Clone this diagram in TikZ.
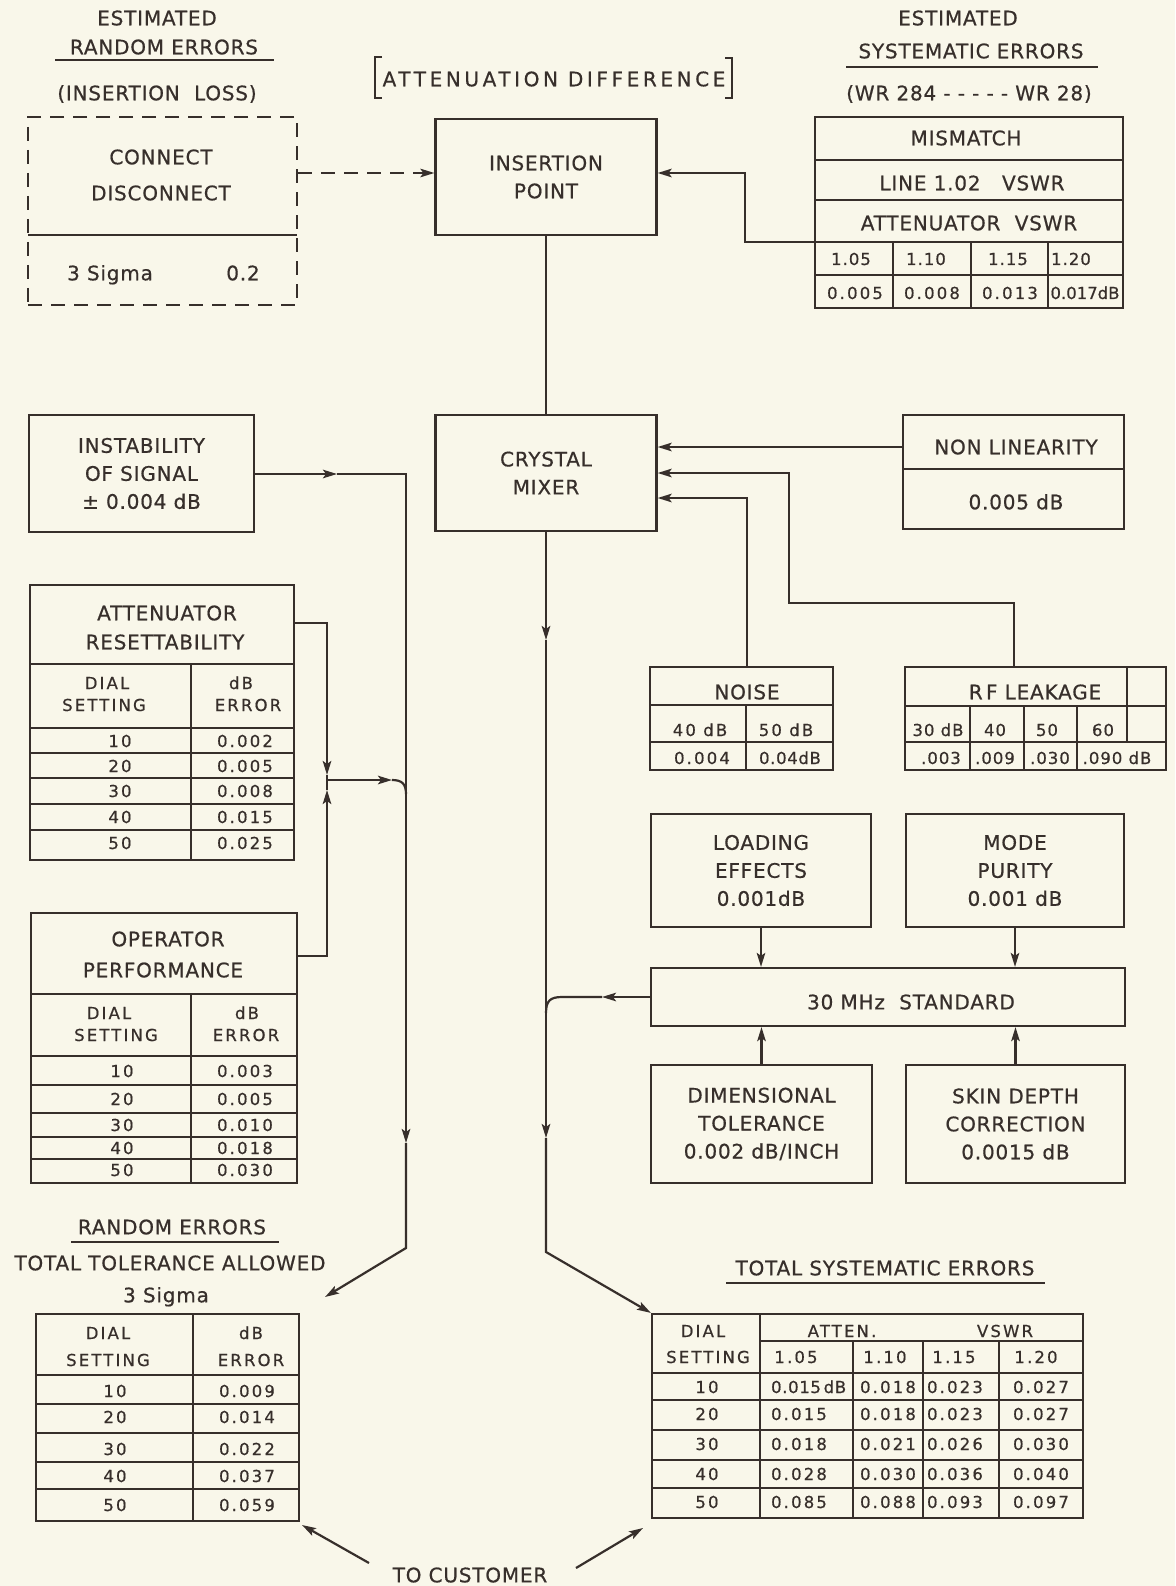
\documentclass[tikz,border=0pt]{standalone}
\usepackage{fontspec}
\setmainfont{DejaVu Sans}[LetterSpace=4,FakeBold=0.6]
\usetikzlibrary{arrows.meta}
\definecolor{paper}{RGB}{249,247,234}
\definecolor{ink}{RGB}{55,47,43}
\tikzset{
  box/.style={draw, inner sep=0pt, align=center},
  txt/.style={anchor=base, yshift=-7.3pt, inner sep=0pt},
  stxt/.style={anchor=base, yshift=-6pt, inner sep=0pt,
    font=\fontsize{16.5}{22}\selectfont\addfontfeature{LetterSpace=13}},
  tip/.style={-{Stealth[length=14pt,width=8.5pt,inset=3pt]}},
  dashbox/.style={dash pattern=on 14pt off 9pt},
}
\begin{document}
\begin{tikzpicture}[x=1pt,y=-1pt,line width=2.2pt,color=ink,font=\fontsize{20}{28}\selectfont]
\useasboundingbox (0,0) rectangle (1175,1586);
\fill[paper] (0,0) rectangle (1175,1586);

% random errors, insertion loss
\node[txt] (estl) at (157,18) {ESTIMATED};
\node[txt] (rndl) at (164,47) {RANDOM ERRORS};
\draw (55,60) -- (274,60);
\node[txt] (loss) at (157,93) {(INSERTION\ \ LOSS)};
\node[box,dashbox,minimum width=269pt,minimum height=188pt] (cd) at (162.5,211) {};
\draw (28,235) -- (297,235);
\node[txt] (conn) at (161,157) {CONNECT};
\node[txt] (disc) at (161,193) {DISCONNECT};
\node[txt] (sig) at (110,273) {3 Sigma};
\node[txt] (sigv) at (243,273) {0.2};

% attenuation difference
\node[txt] (attd) at (554,79) {\addfontfeature{LetterSpace=18}ATTENUATION DIFFERENCE};
\draw (382,57) -- (375,57) -- (375,98) -- (382,98);
\draw (725,58) -- (732,58) -- (732,98) -- (725,98);
\node[box,minimum width=221pt,minimum height=116pt] (ins) at (546,177) {INSERTION\\POINT};

% systematic errors, mismatch
\node[txt] (estr) at (958,18) {ESTIMATED};
\node[txt] (sysr) at (971,51) {SYSTEMATIC ERRORS};
\draw (846,67) -- (1098,67);
\node[txt] (wr) at (969,93) {(WR 284 - - - - - WR 28)};
\node[box,minimum width=308pt,minimum height=191pt] (mis) at (969,212.5) {};
\foreach \y in {160,200,242,275} \draw (815,\y) -- (1123,\y);
\foreach \x in {893,971,1048} \draw (\x,242) -- (\x,308);
\node[txt] (mm) at (966,138) {MISMATCH};
\node[txt] (lin) at (972,183) {LINE 1.02\ \ \ VSWR};
\node[txt] (avs) at (969,223) {ATTENUATOR\ \ VSWR};
\foreach \xa/\v/\xb/\e [count=\i] in {851/1.05/855/0.005, 926/1.10/932/0.008, 1008/1.15/1010/0.013,
    1071/1.20/1085/{\addfontfeature{LetterSpace=0}0.017dB}}{
  \node[stxt] (mv\i) at (\xa,259) {\addfontfeature{LetterSpace=6}\v};
  \node[stxt] (me\i) at (\xb,293) {\e};
}

% crystal mixer and its inputs
\node[box,minimum width=221pt,minimum height=116pt] (cry) at (546,473) {CRYSTAL\\MIXER};
\node[box,minimum width=221pt,minimum height=114pt] (nl) at (1013.5,472) {};
\draw (903,469) -- (1124,469);
\node[txt] (nlt) at (1016,447) {NON LINEARITY};
\node[txt] (nlv) at (1016,502) {0.005 dB};

\node[box,minimum width=183pt,minimum height=103pt] (noi) at (741.5,718.5) {};
\draw (650,705) -- (833,705);
\draw (650,742) -- (833,742);
\draw (746,705) -- (746,770);
\node[txt] (noit) at (747,692) {NOISE};
\node[stxt] (n40) at (700,730) {40 dB};
\node[stxt] (n50) at (786,730) {50 dB};
\node[stxt] (n40v) at (702,758) {0.004};
\node[stxt] (n50v) at (790,758) {\addfontfeature{LetterSpace=4}0.04dB};

\node[box,minimum width=261pt,minimum height=103pt] (rf) at (1035.5,718.5) {};
\draw (905,706) -- (1166,706);
\draw (905,742) -- (1166,742);
\draw (1127,667) -- (1127,742);
\foreach \x in {970,1024,1077} \draw (\x,706) -- (\x,770);
\node[txt] (rft) at (1035,692) {R\,F LEAKAGE};
\foreach \xa/\a/\xb/\b [count=\i] in {938/30 dB/941/.003, 995/40/995/.009, 1047/50/1050/.030,
    1103/60/1117/.090 dB}{
  \node[stxt] (rfa\i) at (\xa,730) {\addfontfeature{LetterSpace=6}\a};
  \node[stxt] (rfb\i) at (\xb,758) {\addfontfeature{LetterSpace=6}\b};
}

% random error sources
\node[box,minimum width=225pt,minimum height=117pt] (inst) at (141.5,473.5) {INSTABILITY\\OF SIGNAL\\± 0.004 dB};

\node[box,minimum width=264pt,minimum height=275pt] (res) at (162,722.5) {};
\draw (30,664) -- (294,664);
\draw (191,664) -- (191,860);
\foreach \y in {728,753,778,804,830} \draw (30,\y) -- (294,\y);
\node[txt] (rest1) at (167,613) {ATTENUATOR};
\node[txt] (rest2) at (165,642) {RESETTABILITY};
\node[stxt] (resd1) at (107,683) {DIAL};
\node[stxt] (resd2) at (104,705) {SETTING};
\node[stxt] (rese1) at (241,683) {dB};
\node[stxt] (rese2) at (248,705) {ERROR};
\foreach \y/\d/\e [count=\i] in {741/10/0.002,766/20/0.005,791/30/0.008,817/40/0.015,843/50/0.025}{
  \node[stxt] (rd\i) at (120,\y) {\d};
  \node[stxt] (re\i) at (245,\y) {\e};
}

\node[box,minimum width=266pt,minimum height=270pt] (op) at (164,1048) {};
\draw (31,994) -- (297,994);
\draw (191,994) -- (191,1183);
\foreach \y in {1056,1085,1113,1137,1159} \draw (31,\y) -- (297,\y);
\node[txt] (opt1) at (168,939) {OPERATOR};
\node[txt] (opt2) at (163,970) {PERFORMANCE};
\node[stxt] (opd1) at (109,1013) {DIAL};
\node[stxt] (opd2) at (116,1035) {SETTING};
\node[stxt] (ope1) at (247,1013) {dB};
\node[stxt] (ope2) at (246,1035) {ERROR};
\foreach \y/\d/\e [count=\i] in {1071/10/0.003,1099/20/0.005,1125/30/0.010,1148/40/0.018,1170/50/0.030}{
  \node[stxt] (od\i) at (122,\y) {\d};
  \node[stxt] (oe\i) at (245,\y) {\e};
}

% random errors total
\node[txt] (rndt) at (172,1227) {RANDOM ERRORS};
\draw (71,1242) -- (279,1242);
\node[txt] (tol) at (170,1263) {TOTAL TOLERANCE ALLOWED};
\node[txt] (sig3) at (166,1295) {3 Sigma};
\node[box,minimum width=263pt,minimum height=207pt] (rnd) at (167.5,1417.5) {};
\draw (36,1375) -- (299,1375);
\draw (193,1314) -- (193,1521);
\foreach \y in {1404,1433,1462,1489} \draw (36,\y) -- (299,\y);
\node[stxt] (rnd1) at (108,1333) {DIAL};
\node[stxt] (rnd2) at (108,1360) {SETTING};
\node[stxt] (rne1) at (251,1333) {dB};
\node[stxt] (rne2) at (251,1360) {ERROR};
\foreach \y/\d/\e [count=\i] in {1391/10/0.009,1417/20/0.014,1449/30/0.022,1476/40/0.037,1505/50/0.059}{
  \node[stxt] (td\i) at (115,\y) {\d};
  \node[stxt] (te\i) at (247,\y) {\e};
}

% 30 MHz standard
\node[box,minimum width=220pt,minimum height=113pt] (load) at (761,870.5) {LOADING\\EFFECTS\\0.001dB};
\node[box,minimum width=218pt,minimum height=113pt] (mode) at (1015,870.5) {MODE\\PURITY\\0.001 dB};
\node[box,minimum width=474pt,minimum height=58pt] (std) at (888,997) {};
\node[txt] (stdt) at (911,1002) {30 MHz\ \ STANDARD};
\node[box,minimum width=221pt,minimum height=118pt] (dim) at (761.5,1124) {DIMENSIONAL\\TOLERANCE\\0.002 dB/INCH};
\node[box,minimum width=219pt,minimum height=118pt] (skin) at (1015.5,1124) {SKIN DEPTH\\CORRECTION\\0.0015 dB};

% total systematic errors
\node[txt] (tsys) at (885,1268) {TOTAL SYSTEMATIC ERRORS};
\draw (726,1283) -- (1045,1283);
\node[box,minimum width=431pt,minimum height=204pt] (sys) at (867.5,1416) {};
\draw (760,1314) -- (760,1518);
\draw (760,1341) -- (1083,1341);
\foreach \y in {1373,1400,1430,1460,1488} \draw (652,\y) -- (1083,\y);
\foreach \x in {853,923,999} \draw (\x,1341) -- (\x,1518);
\node[stxt] (sd1) at (703,1331) {DIAL};
\node[stxt] (sd2) at (708,1357) {SETTING};
\node[stxt] (sat) at (842,1331) {ATTEN.};
\node[stxt] (svs) at (1005,1331) {VSWR};
\node[stxt] (sv1) at (796,1357) {1.05};
\node[stxt] (sv2) at (885,1357) {1.10};
\node[stxt] (sv3) at (954,1357) {1.15};
\node[stxt] (sv4) at (1036,1357) {1.20};
\foreach \y/\d/\a/\b/\c/\e [count=\i] in {1387/10/{\addfontfeature{LetterSpace=4}0.015\,dB}/0.018/0.023/0.027,
    1414/20/0.015/0.018/0.023/0.027, 1444/30/0.018/0.021/0.026/0.030,
    1474/40/0.028/0.030/0.036/0.040, 1502/50/0.085/0.088/0.093/0.097}{
  \node[stxt] (sr\i) at (707,\y) {\d};
  \node[stxt,anchor=base west] (sa\i) at (770,\y) {\a};
  \node[stxt] (sb\i) at (888,\y) {\b};
  \node[stxt] (sc\i) at (955,\y) {\c};
  \node[stxt] (se\i) at (1041,\y) {\e};
}
\node[txt] (cust) at (470,1575) {TO CUSTOMER};
\coordinate (cusl) at (369,1563);
\coordinate (cusr) at (576,1568);

% connectors
\draw[tip,dashbox] (cd.east |- 0,173) -- (ins.west |- 0,173);
\draw[tip] (mis.west |- 0,242) -- (745,242) -- (745,173) -- (ins.east |- 0,173);
\draw (ins.south) -- (cry.north);
\draw[tip] (nl.west |- 0,447) -- (cry.east |- 0,447);
\draw[tip] (rf.north -| 1014,0) -- (1014,603) -- (789,603) -- (789,473) -- (cry.east |- 0,473);
\draw[tip] (noi.north -| 747,0) -- (747,498) -- (cry.east |- 0,498);
\draw[tip] (cry.south) -- (546,640);
\draw[tip] (546,640) -- (546,1138);
\draw[tip] (546,1138) -- (546,1252) -- (sys.north west);
\draw[tip] (std.west) -- (602,997);
\draw (602,997) -- (562,997) .. controls (550,997) and (546,1001) .. (546,1013);
\draw[tip] (load.south) -- (load.south |- std.north);
\draw[tip] (mode.south) -- (mode.south |- std.north);
\draw[tip] (dim.north) -- (dim.north |- std.south);
\draw[tip] (skin.north) -- (skin.north |- std.south);

\draw[tip] (inst.east |- 0,474) -- (337,474);
\draw[tip] (337,474) -- (406,474) -- (406,1143);
\draw[tip] (406,1143) -- (406,1248) -- (325,1297);
\draw[tip] (res.east |- 0,623) -- (327,623) -- (327,775);
\draw (327,775) -- (327,780);
\draw[tip] (op.east |- 0,956) -- (327,956) -- (327,790);
\draw (327,790) -- (327,780);
\draw[tip] (327,780) -- (392,780);
\draw (392,780) .. controls (402,780) and (406,784) .. (406,794);

\draw[tip] (cusl) -- (302,1525);
\draw[tip] (cusr) -- (643,1528);
\end{tikzpicture}
\end{document}
